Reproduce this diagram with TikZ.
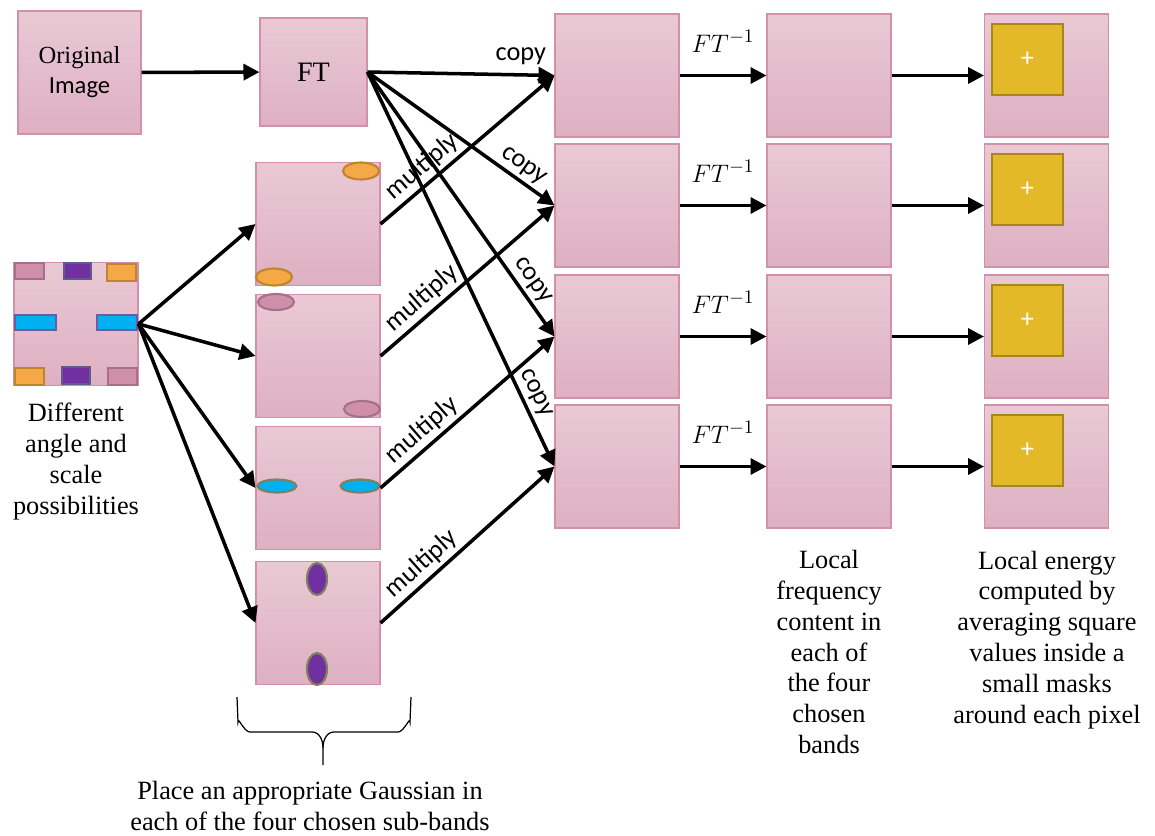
\documentclass[tikz,border=0pt]{standalone}
\usepackage{fontspec}
\setmainfont{Liberation Serif}
\newfontfamily\timesf{Liberation Serif}
\newfontfamily\calib{Carlito}
\usepackage{tikz}
\usetikzlibrary{arrows.meta, positioning, calc}
\definecolor{boxtop}{RGB}{233,201,212}
\definecolor{boxbot}{RGB}{222,176,194}
\definecolor{boxedge}{RGB}{212,143,170}
\definecolor{gpink}{RGB}{208,143,168}
\definecolor{gpinkedge}{RGB}{165,112,138}
\definecolor{gpurple}{RGB}{112,48,160}
\definecolor{gpurpleedge}{RGB}{94,92,142}
\definecolor{gorange}{RGB}{244,169,70}
\definecolor{gorangeedge}{RGB}{192,132,44}
\definecolor{gcyan}{RGB}{0,176,240}
\definecolor{gcyanedge}{RGB}{108,92,160}
\definecolor{golive}{RGB}{127,128,96}
\definecolor{mskfill}{RGB}{227,185,42}
\definecolor{mskedge}{RGB}{168,134,28}
\tikzset{
  box/.style={rectangle, draw=boxedge, top color=boxtop, bottom color=boxbot,
    minimum width=2.48cm, minimum height=2.46cm, inner sep=0pt, line width=0.6pt},
  ftbox/.style={box, minimum width=2.14cm, minimum height=2.16cm},
  maskbox/.style={rectangle, draw=mskedge, fill=mskfill, line width=1.2pt,
    minimum size=1.42cm, inner sep=0pt, text=white, font=\calib\fontsize{15}{18}\selectfont},
  arrow/.style={-{Triangle[length=3.2mm,width=3.2mm]}, line width=2pt},
  lbl/.style={font=\calib\fontsize{15}{18}\selectfont, inner sep=2pt},
  note/.style={font=\timesf\fontsize{15}{17.6}\selectfont, align=center},
  blob/.style={line width=1.2pt}
}

\begin{document}
\begin{tikzpicture}[x=0.02cm, y=-0.02cm]
  \useasboundingbox (0,0) rectangle (1155,835);

  % Input and Fourier transform
  \node[box, minimum width=2.46cm] (orig) at (79.5,72.5) {};
  \node[ftbox] (ft) at (313.5,72) {};
  \draw[arrow] (orig) -- (ft);

  % Angle and scale possibilities
  \node[box] (angles) at (76,324) {};
  \draw[blob, fill=gpink, draw=gpinkedge] (15,263) rectangle (44,279);
  \draw[blob, fill=gpurple, draw=gpurpleedge] (64,263) rectangle (91,279);
  \draw[blob, fill=gorange, draw=gorangeedge] (107,264) rectangle (136,281);
  \draw[blob, fill=gcyan, draw=gcyanedge] (15,315) rectangle (56,330);
  \draw[blob, fill=gcyan, draw=gcyanedge] (97,315) rectangle (137,330);
  \draw[blob, fill=gorange, draw=gorangeedge] (15,368) rectangle (44,385);
  \draw[blob, fill=gpurple, draw=gpurpleedge] (62,367) rectangle (90,384);
  \draw[blob, fill=gpink, draw=gpinkedge] (108,368) rectangle (137,385);
  \node[note, below=6pt of angles] (anglestxt) {Different\\angle and\\scale\\possibilities};

  % Gaussian sub-bands
  \foreach \i/\y in {1/224,2/356,3/488,4/623}
    \node[box] (g\i) at (318,\y) {};
  \draw[blob, fill=gorange, draw=gorangeedge] (361,171) ellipse [x radius=18, y radius=8.5];
  \draw[blob, fill=gorange, draw=gorangeedge] (274,277) ellipse [x radius=18, y radius=8.5];
  \draw[blob, fill=gpink, draw=gpinkedge] (276,302) ellipse [x radius=18, y radius=8];
  \draw[blob, fill=gpink, draw=gpinkedge] (362,409) ellipse [x radius=18, y radius=8];
  \draw[blob, fill=gcyan, draw=golive] (277,486) ellipse [x radius=19.5, y radius=6.5];
  \draw[blob, fill=gcyan, draw=golive] (360,486) ellipse [x radius=19.5, y radius=6.5];
  \draw[blob, fill=gpurple, draw=golive] (317,579) ellipse [x radius=10, y radius=16];
  \draw[blob, fill=gpurple, draw=golive] (317,669) ellipse [x radius=10, y radius=16];
  \foreach \i in {1,...,4}
    \draw[arrow] (angles.east) -- (g\i.west);

  % Bands, inverse transform, local energy
  \foreach \i/\y in {1/75.5,2/205.5,3/336.5,4/466.5} {
    \node[box] (b\i) at (617,\y) {};
    \node[box] (l\i) at (829,\y) {};
    \node[box] (e\i) at (1046.5,\y) {};
    \node[maskbox] (m\i) at (1027.5,\y-16) {+};
    \draw[arrow] (b\i) -- (l\i) node[midway, above=9pt, font=\fontsize{15}{18}\selectfont] {$FT^{-1}$};
    \draw[arrow] (l\i) -- (e\i);
    \draw[arrow] (g\i.east) -- (b\i.west) node[pos=0.3, sloped, above, lbl] {multiply};
  }
  \draw[arrow] (ft.east) -- (b1.west) node[pos=0.82, above=3pt, lbl] {copy};
  \foreach \i/\p in {2/0.79,3/0.82,4/0.83}
    \draw[arrow] (ft.east) -- (b\i.west) node[pos=\p, sloped, above, lbl] {copy};

  % Brace under the sub-bands
  \draw[line width=0.7pt] (237,697) -- (238,722) to[out=90,in=180] (250,732) -- (312,732)
    to[out=0,in=90] (323,748) -- (323,765);
  \draw[line width=0.7pt] (411,697) -- (410,722) to[out=90,in=0] (398,732) -- (334,732)
    to[out=180,in=90] (323,748);
  \node[note] (bracetxt) at (310,806) {Place an appropriate Gaussian in\\each of the four chosen sub-bands};

  % Column captions
  \node[note] (ltxt) at (829,652) {Local\\frequency\\content in\\each of\\the four\\chosen\\bands};
  \node[note] (etxt) at (1047,640) {Local energy\\computed by\\averaging square\\values inside a\\small masks\\around each pixel};

  % Box texts
  \node[note, font=\timesf\fontsize{14}{17}\selectfont] (origtxt) at (orig.center)
    {Original\\{\calib Image}};
  \node[note, font=\timesf\fontsize{16}{18}\selectfont] (fttxt) at (ft.center) {FT};
\end{tikzpicture}
\end{document}
